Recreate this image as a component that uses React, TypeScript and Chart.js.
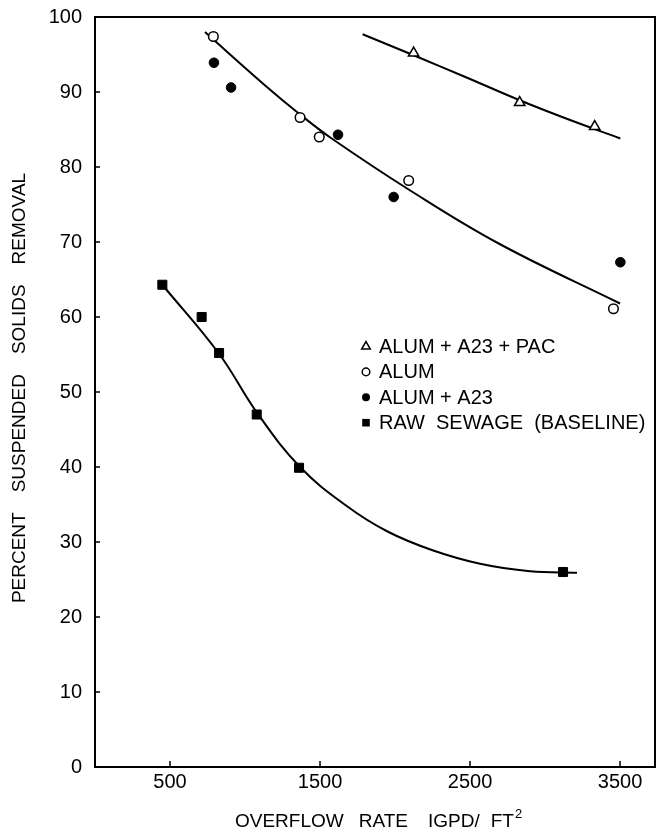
import React, { useEffect, useRef } from "react";
import { Chart, registerables } from "chart.js";

Chart.register(...registerables);

// ---- data ----
const pacX = [2124, 2831, 3331];
const pacY = [95.2, 88.6, 85.4];
const alumX = [789, 1367, 1495, 2091, 3456];
const alumY = [97.4, 86.6, 84.0, 78.2, 61.1];
const a23X = [793, 907, 1620, 1991, 3502];
const a23Y = [93.9, 90.6, 84.3, 76.0, 67.3];
const rawX = [449, 711, 827, 1078, 1360, 3120];
const rawY = [64.3, 60.0, 55.2, 47.0, 39.9, 26.0];

// fitted curves
const pacCurveX = [1784, 2124, 2469, 2831, 3136, 3502];
const pacCurveY = [97.7, 94.9, 92.0, 88.9, 86.5, 83.8];
const alumCurveX = [733, 1144, 1367, 1578, 2091, 2691, 3500];
const alumCurveY = [98.0, 90.7, 87.0, 83.8, 77.0, 69.8, 61.8];
const rawCurveX = [449, 827, 1078, 1367, 1678, 1950, 2250, 2567, 2900, 3213];
const rawCurveY = [64.3, 55.1, 47.3, 40.0, 34.8, 31.4, 28.9, 27.1, 26.1, 25.9];

const xTicks = [500, 1500, 2500, 3500];
const yTicks = [0, 10, 20, 30, 40, 50, 60, 70, 80, 90, 100];
const legendLabels = ["ALUM + A23 + PAC", "ALUM", "ALUM + A23", "RAW  SEWAGE  (BASELINE)"];
const yTitleWords = ["PERCENT", "SUSPENDED", "SOLIDS", "REMOVAL"];
const xTitleWords = ["OVERFLOW", "RATE", "IGPD/", "FT"];
const xTitleSup = "2";

const FONT = "'Liberation Sans', Arial, Helvetica, sans-serif";

const toPts = (xs: number[], ys: number[]) => xs.map((x, i) => ({ x, y: ys[i] }));

function drawMarker(ctx: CanvasRenderingContext2D, kind: string, x: number, y: number, r: number) {
  ctx.save();
  ctx.strokeStyle = "#000";
  ctx.lineWidth = 1.5;
  ctx.beginPath();
  if (kind === "tri") {
    ctx.moveTo(x, y - r);
    ctx.lineTo(x + r * 0.866, y + r * 0.5);
    ctx.lineTo(x - r * 0.866, y + r * 0.5);
    ctx.closePath();
    ctx.fillStyle = "#fff";
    ctx.fill();
    ctx.stroke();
  } else if (kind === "open") {
    ctx.arc(x, y, r, 0, Math.PI * 2);
    ctx.fillStyle = "#fff";
    ctx.fill();
    ctx.stroke();
  } else if (kind === "dot") {
    ctx.arc(x, y, r, 0, Math.PI * 2);
    ctx.fillStyle = "#000";
    ctx.fill();
  } else {
    ctx.rect(x - r, y - r, 2 * r, 2 * r);
    ctx.fillStyle = "#000";
    ctx.fill();
  }
  ctx.restore();
}

const decorPlugin = {
  id: "decor",
  afterDraw(chart: any) {
    const ctx: CanvasRenderingContext2D = chart.ctx;
    const { left, right, top, bottom } = chart.chartArea;
    const xs = chart.scales.x;
    const ys = chart.scales.y;
    ctx.save();
    // frame
    ctx.strokeStyle = "#000";
    ctx.lineWidth = 2;
    ctx.strokeRect(left, top, right - left, bottom - top);
    // tick marks (inward)
    ctx.lineWidth = 1.5;
    ctx.beginPath();
    yTicks.forEach((v) => {
      const py = ys.getPixelForValue(v);
      ctx.moveTo(left, py);
      ctx.lineTo(left + 5, py);
    });
    xTicks.forEach((v) => {
      const px = xs.getPixelForValue(v);
      ctx.moveTo(px, bottom);
      ctx.lineTo(px, bottom - 6);
    });
    ctx.stroke();

    // y title
    ctx.fillStyle = "#000";
    ctx.font = `19px ${FONT}`;
    ctx.textBaseline = "middle";
    ctx.textAlign = "left";
    const gapY = 20;
    const widths = yTitleWords.map((w) => ctx.measureText(w).width);
    const total = widths.reduce((a, b) => a + b, 0) + gapY * (yTitleWords.length - 1);
    ctx.save();
    ctx.translate(20, 388);
    ctx.rotate(-Math.PI / 2);
    let cx = -total / 2;
    yTitleWords.forEach((w, i) => {
      ctx.fillText(w, cx, 0);
      cx += widths[i] + gapY;
    });
    ctx.restore();

    // x title
    ctx.textBaseline = "alphabetic";
    const gapsX = [15, 20, 11];
    let tx = 235;
    const by = 827;
    xTitleWords.forEach((w, i) => {
      ctx.fillText(w, tx, by);
      tx += ctx.measureText(w).width + (gapsX[i] || 0);
    });
    ctx.font = `13px ${FONT}`;
    ctx.fillText(xTitleSup, tx + 1, by - 9);

    // legend
    ctx.font = `20px ${FONT}`;
    ctx.textBaseline = "middle";
    const kinds = ["tri", "open", "dot", "sq"];
    const sizes = [5, 3.8, 4, 3.8];
    legendLabels.forEach((lab, i) => {
      const ly = 346.5 + i * 25.4;
      drawMarker(ctx, kinds[i], 366, ly, sizes[i]);
      ctx.fillText(lab, 379, ly + 1);
    });
    ctx.restore();
  },
};

export default function App() {
  const ref = useRef<HTMLCanvasElement | null>(null);
  useEffect(() => {
    if (!ref.current) return;
    const lineBase = {
      type: "line" as const,
      showLine: true,
      pointRadius: 0,
      borderColor: "#000",
      borderWidth: 2,
      fill: false,
      tension: 0.4,
      order: 2,
    };
    const chart = new Chart(ref.current, {
      type: "scatter",
      data: {
        datasets: [
          {
            label: "ALUM + A23 + PAC",
            data: toPts(pacX, pacY),
            pointStyle: "triangle",
            pointRadius: 6,
            backgroundColor: "#fff",
            borderColor: "#000",
            borderWidth: 1.5,
            order: 1,
          },
          {
            label: "ALUM",
            data: toPts(alumX, alumY),
            pointStyle: "circle",
            pointRadius: 4.8,
            backgroundColor: "#fff",
            borderColor: "#000",
            borderWidth: 1.5,
            order: 1,
          },
          {
            label: "ALUM + A23",
            data: toPts(a23X, a23Y),
            pointStyle: "circle",
            pointRadius: 4.8,
            backgroundColor: "#000",
            borderColor: "#000",
            borderWidth: 1,
            order: 1,
          },
          {
            label: "RAW SEWAGE (BASELINE)",
            data: toPts(rawX, rawY),
            pointStyle: "rect",
            pointRadius: 6.4,
            backgroundColor: "#000",
            borderColor: "#000",
            borderWidth: 1,
            order: 1,
          },
          { ...lineBase, label: "pac fit", data: toPts(pacCurveX, pacCurveY) } as any,
          { ...lineBase, label: "alum fit", data: toPts(alumCurveX, alumCurveY) } as any,
          { ...lineBase, label: "raw fit", data: toPts(rawCurveX, rawCurveY) } as any,
        ],
      },
      options: {
        animation: false,
        responsive: false,
        maintainAspectRatio: false,
        devicePixelRatio: 1,
        layout: { padding: { left: 0, top: 17, right: 9, bottom: 0 } },
        plugins: { legend: { display: false }, tooltip: { enabled: false } },
        scales: {
          x: {
            type: "linear",
            min: 0,
            max: 3733,
            grid: { display: false, drawTicks: false },
            border: { display: false },
            afterBuildTicks: (scale: any) => {
              scale.ticks = xTicks.map((v) => ({ value: v }));
            },
            afterFit: (scale: any) => {
              scale.height = 65;
              scale.paddingLeft = 0;
              scale.paddingRight = 0;
              scale.paddingTop = 0;
              scale.paddingBottom = 0;
            },
            ticks: {
              autoSkip: false,
              maxRotation: 0,
              padding: 3,
              color: "#000",
              font: { family: FONT, size: 20 },
              callback: (v: any) => String(v),
            },
          },
          y: {
            type: "linear",
            min: 0,
            max: 100,
            grid: { display: false, drawTicks: false },
            border: { display: false },
            afterBuildTicks: (scale: any) => {
              scale.ticks = yTicks.map((v) => ({ value: v }));
            },
            afterFit: (scale: any) => {
              scale.width = 95;
              scale.paddingLeft = 0;
              scale.paddingRight = 0;
              scale.paddingTop = 0;
              scale.paddingBottom = 0;
            },
            ticks: {
              padding: 13,
              color: "#000",
              font: { family: FONT, size: 20 },
              callback: (v: any) => String(v),
            },
          },
        },
      },
      plugins: [decorPlugin],
    });
    return () => chart.destroy();
  }, []);
  return (
    <div style={{ position: "absolute", left: 0, top: 0, width: 664, height: 832, background: "#fff" }}>
      <canvas ref={ref} width={664} height={832} style={{ display: "block", width: 664, height: 832 }} />
    </div>
  );
}
